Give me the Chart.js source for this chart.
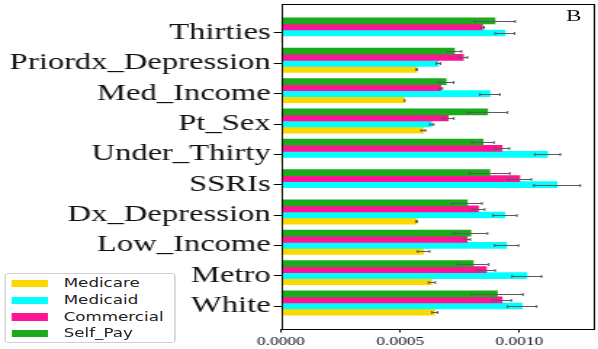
<!DOCTYPE html>
<html>
<head>
<meta charset="utf-8">
<script src="https://cdn.jsdelivr.net/npm/chart.js@4.4.1/dist/chart.umd.min.js"></script>
<style>
  html, body { margin: 0; padding: 0; background: #fff; overflow: hidden; }
  /* the reference figure is stretched horizontally, so draw narrow and scale */
  #stage { position: absolute; left: 0; top: 0; width: 412px; height: 349px;
           transform: scaleX(1.4515); transform-origin: 0 0; }
  #chartBox { position: absolute; left: 0; top: 0; width: 412px; height: 349px; }
  #legend { position: absolute; left: 3.4px; top: 273.3px; width: 118px; height: 70px;
            border: 1px solid #cfcfcf; border-radius: 3px; background: #fff;
            padding-top: 1.2px; box-sizing: border-box;
            font-family: "DejaVu Sans", sans-serif; font-size: 11.5px; color: #222; }
  .row { position: relative; height: 16.6px; line-height: 16.6px; }
  .patch { position: absolute; left: 3.6px; top: 4.6px; width: 24.6px; height: 7.4px; }
  .lbl { position: absolute; left: 39.5px; top: 0; white-space: nowrap; }
  #tag { position: absolute; left: 390px; top: 7.6px; font-family: "Liberation Serif", serif;
         font-size: 16px; line-height: 16px; color: #111; }
</style>
</head>
<body>
<div id="stage">
  <div id="chartBox"><canvas id="chart"></canvas></div>
  <div id="legend"></div>
  <div id="tag">B</div>
</div>
<script>
// categories, top to bottom
const categories = ["Thirties", "Priordx_Depression", "Med_Income", "Pt_Sex", "Under_Thirty",
                    "SSRIs", "Dx_Depression", "Low_Income", "Metro", "White"];

const medicare   = [0, 0.000569, 0.000518, 0.000597, 0, 0, 0.000569, 0.000598, 0.000633, 0.000645];
const medicaid   = [0.000939, 0.000660, 0.000876, 0.000632, 0.001118, 0.001158, 0.000939, 0.000946, 0.001031, 0.001011];
const commercial = [0.000845, 0.000765, 0.000670, 0.000701, 0.000927, 0.001001, 0.000828, 0.000781, 0.000861, 0.000927];
const selfPay    = [0.000897, 0.000727, 0.000692, 0.000866, 0.000847, 0.000875, 0.000781, 0.000796, 0.000806, 0.000907];

const medicareErr   = [0, 0.000002, 0, 0.000009, 0, 0, 0.000002, 0.000025, 0.000014, 0.000012];
const medicaidErr   = [0.000041, 0.000009, 0.000042, 0.000008, 0.000054, 0.000097, 0.000050, 0.000050, 0.000062, 0.000061];
const commercialErr = [0.000007, 0.000017, 0.000007, 0.000024, 0.000031, 0.000049, 0.000026, 0.000013, 0.000037, 0.000039];
const selfPayErr    = [0.000085, 0.000030, 0.000032, 0.000084, 0.000046, 0.000085, 0.000062, 0.000070, 0.000065, 0.000108];

const xTicks = [0, 0.0005, 0.0010];
const xTickLabels = ["0.0000", "0.0005", "0.0010"];

const seriesNames = ["Medicare", "Medicaid", "Commercial", "Self_Pay"];
const seriesColors = ["#ffd700", "#00ffff", "#ff1493", "#19ab19"];

// legend (html)
const legendDiv = document.getElementById("legend");
seriesNames.forEach((name, i) => {
  const row = document.createElement("div");
  row.className = "row";
  row.innerHTML = `<span class="patch" style="background:${seriesColors[i]}"></span><span class="lbl">${name}</span>`;
  legendDiv.appendChild(row);
});

function toPoints(vals) {
  return vals.map((v, i) => ({ x: v, y: i }));
}

// drawn top to bottom inside each group; last one is an empty slot
const datasets = [
  { label: "Self_Pay",   data: toPoints(selfPay),    errors: selfPayErr,    backgroundColor: seriesColors[3] },
  { label: "Commercial", data: toPoints(commercial), errors: commercialErr, backgroundColor: seriesColors[2] },
  { label: "Medicaid",   data: toPoints(medicaid),   errors: medicaidErr,   backgroundColor: seriesColors[1] },
  { label: "Medicare",   data: toPoints(medicare),   errors: medicareErr,   backgroundColor: seriesColors[0] },
  { label: "",           data: [],                                        backgroundColor: "rgba(0,0,0,0)" }
];

const errorBars = {
  id: "errorBars",
  afterDatasetsDraw(chart) {
    const ctx = chart.ctx;
    const xs = chart.scales.x;
    ctx.save();
    ctx.strokeStyle = "#5a5a5a";
    ctx.lineWidth = 1;
    chart.data.datasets.forEach((ds, di) => {
      if (!ds.errors) return;
      const meta = chart.getDatasetMeta(di);
      meta.data.forEach((bar, i) => {
        const v = ds.data[i].x, e = ds.errors[i];
        if (!v) return;
        const x1 = xs.getPixelForValue(v - e), x2 = xs.getPixelForValue(v + e);
        const y = Math.round(bar.y) + 0.5;
        ctx.beginPath();
        ctx.moveTo(x1, y); ctx.lineTo(x2, y);
        ctx.moveTo(x1, y - 1.5); ctx.lineTo(x1, y + 1.5);
        ctx.moveTo(x2, y - 1.5); ctx.lineTo(x2, y + 1.5);
        ctx.stroke();
      });
    });
    ctx.restore();
  }
};

const frame = {
  id: "frame",
  afterDraw(chart) {
    const a = chart.chartArea, ctx = chart.ctx;
    ctx.save();
    ctx.strokeStyle = "#000";
    ctx.lineWidth = 1;
    ctx.strokeRect(Math.round(a.left) + 0.5, Math.round(a.top) + 0.5,
                   Math.round(a.right - a.left) - 1, Math.round(a.bottom - a.top));
    ctx.restore();
  }
};

new Chart(document.getElementById("chart"), {
  type: "bar",
  data: { datasets: datasets },
  options: {
    indexAxis: "y",
    responsive: true,
    maintainAspectRatio: false,
    animation: false,
    layout: { padding: { left: 0, right: 2.6, top: 4, bottom: 0 } },
    datasets: { bar: { categoryPercentage: 1.0, barPercentage: 1.0, borderWidth: 0 } },
    plugins: { legend: { display: false }, tooltip: { enabled: false } },
    scales: {
      x: {
        type: "linear",
        min: 0,
        max: 0.001314,
        offset: false,
        afterBuildTicks: s => { s.ticks = xTicks.map(v => ({ value: v })); },
        afterFit: s => { s.height = 20; s.paddingLeft = 0; s.paddingRight = 0; },
        border: { display: false },
        grid: { display: true, offset: false, drawOnChartArea: false, drawTicks: true, tickLength: 3.5, color: "#000" },
        ticks: {
          padding: 2,
          color: "#111",
          font: { family: "Liberation Serif", size: 12 },
          callback: (v) => xTickLabels[xTicks.indexOf(v)]
        }
      },
      y: {
        type: "linear",
        reverse: true,
        offset: false,
        min: -0.956,
        max: 9.758,
        afterBuildTicks: s => { s.ticks = categories.map((c, i) => ({ value: i })); },
        afterFit: s => { s.width = 193.6; s.paddingTop = 0; s.paddingBottom = 0; },
        border: { display: false },
        grid: { display: true, offset: false, drawOnChartArea: false, drawTicks: true, tickLength: 5, color: "#000" },
        ticks: {
          padding: 2,
          color: "#111",
          font: { family: "Liberation Serif", size: 22.5 },
          callback: (v) => categories[v]
        }
      }
    }
  },
  plugins: [errorBars, frame]
});
</script>
</body>
</html>
